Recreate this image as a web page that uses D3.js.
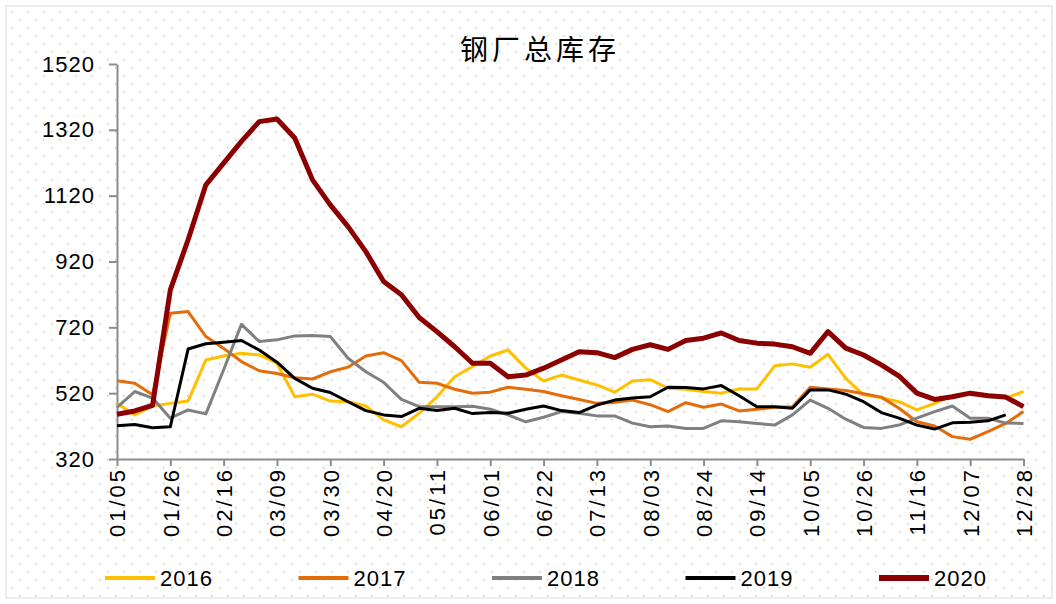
<!DOCTYPE html>
<html>
<head>
<meta charset="utf-8">
<script src="https://cdn.jsdelivr.net/npm/d3@7/dist/d3.min.js"></script>
<style>
body { margin: 0; background: #fff; }
text { font-family: "Liberation Sans", Arial, sans-serif; fill: #000; }
</style>
</head>
<body>
<script>
//tick labels (every third week)
var weekTicks = ["01/05","01/26","02/16","03/09","03/30","04/20","05/11","06/01","06/22",
                 "07/13","08/03","08/24","09/14","10/05","10/26","11/16","12/07","12/28"];
var yTicks = [320, 520, 720, 920, 1120, 1320, 1520];
var years = ["2016", "2017", "2018", "2019", "2020"];

//weekly values
var s2016 = [489,454,481,489,496,621,633,641,636,611, 509,517,496,494,481,439,418,459,509,570,
             601,633,651,596,557,575,560,545,523,557, 561,535,532,525,520,533,533,603,609,599,
             638,565,515,506,494,469,489,512,520,515, 505,525];
var s2017 = [558,550,515,763,768,692,656,616,588,580, 567,563,585,599,633,643,619,553,550,532,
             520,523,538,532,525,512,501,489,492,499, 485,464,491,477,487,466,471,477,479,538,
             533,528,518,508,474,433,420,388,380,403, 428,464];
var s2018 = [477,525,505,444,469,457,591,729,677,682, 694,695,692,626,585,553,501,479,479,479,
             480,471,454,433,447,464,459,451,451,429, 418,420,413,413,436,433,428,423,454,499,
             474,441,416,413,423,444,464,481,444,444, 429,428];
var s2019 = [421,425,415,418,654,670,675,680,651,614, 565,535,522,494,467,454,449,474,467,474,
             458,461,459,471,481,467,461,484,499,505, 509,538,537,533,543,512,479,479,474,530,
             530,517,494,461,444,423,411,430,432,436, 454];
var s2020 = [456,466,483,834,986,1153,1219,1285,1345,1353, 1295,1168,1092,1026,950,859,819,750,707,661,
             611,611,570,575,596,621,646,643,628,653, 667,653,680,687,703,680,672,669,661,641,
             707,657,636,606,572,520,501,509,520,512, 508,479];

var series = [s2016, s2017, s2018, s2019, s2020];
var colors = ["#FFC000", "#E46C0A", "#808080", "#000000", "#8B0000"];
var widths = [3, 3, 3, 3, 5];

//create svg
var svg = d3.select("body").append("svg")
    .attr("width", 1056)
    .attr("height", 604);

//dotted background like the excel fill
var defs = svg.append("defs");
var pat = defs.append("pattern")
    .attr("id", "dots")
    .attr("width", 16)
    .attr("height", 16)
    .attr("patternUnits", "userSpaceOnUse");
pat.append("rect").attr("x", 3).attr("y", 3).attr("width", 1.5).attr("height", 1.5).attr("fill", "#c8c8c8");
pat.append("rect").attr("x", 11).attr("y", 11).attr("width", 1.5).attr("height", 1.5).attr("fill", "#c8c8c8");

svg.append("rect")
    .attr("x", 6).attr("y", 6)
    .attr("width", 1046).attr("height", 592)
    .attr("fill", "url(#dots)")
    .attr("stroke", "#d9d9d9");

//set dimensions
var margin = {left: 117, right: 32.5, top: 64, bottom: 145};
var width = 1056 - margin.left - margin.right;
var height = 604 - margin.top - margin.bottom;

var x = d3.scaleLinear()
    .domain([0, s2016.length - 1])
    .range([0, width]);

var y = d3.scaleLinear()
    .domain([320, 1520])
    .range([height, 0]);

var g = svg.append("g")
    .attr("transform", "translate(" + margin.left + "," + margin.top + ")");

// x-axis
var xAxis = g.append("g")
    .attr("transform", "translate(0," + height + ")")
    .call(d3.axisBottom(x)
        .tickValues(weekTicks.map(function(d, i) { return i * 3; }))
        .tickFormat(function(d) { return weekTicks[d / 3]; })
        .tickSize(7)
        .tickSizeOuter(0));
xAxis.select(".domain").attr("stroke", "#8c8c8c").attr("stroke-width", 2);
xAxis.selectAll(".tick line").attr("stroke", "#8c8c8c").attr("stroke-width", 2);
xAxis.selectAll(".tick text")
    .attr("transform", "rotate(-90)")
    .attr("x", -8)
    .attr("y", 0)
    .attr("dy", "0.36em")
    .style("text-anchor", "end")
    .style("font-size", "22px")
    .style("letter-spacing", "3px")
    .style("font-family", "'Liberation Sans', Arial, sans-serif");

// y-axis
var yAxis = g.append("g")
    .call(d3.axisLeft(y)
        .tickValues(yTicks)
        .tickFormat(d3.format("d"))
        .tickSize(8)
        .tickSizeOuter(0)
        .tickPadding(14));
yAxis.select(".domain").attr("stroke", "#8c8c8c").attr("stroke-width", 2);
yAxis.selectAll(".tick line").attr("stroke", "#8c8c8c").attr("stroke-width", 2);
yAxis.selectAll(".tick text")
    .style("font-size", "22px")
    .style("letter-spacing", "1px")
    .style("font-family", "'Liberation Sans', Arial, sans-serif");

// lines
var line = d3.line()
    .x(function(d, i) { return x(i); })
    .y(function(d) { return y(d); });

for (var k = 0; k < series.length; k++) {
    g.append("path")
        .datum(series[k])
        .attr("fill", "none")
        .attr("stroke", colors[k])
        .attr("stroke-width", widths[k])
        .attr("stroke-linejoin", "round")
        .attr("d", line);
}

//title
svg.append("text")
    .attr("x", 540)
    .attr("y", 60)
    .style("text-anchor", "middle")
    .style("font-size", "28px")
    .style("letter-spacing", "4px")
    .style("font-family", "'Noto Sans CJK SC', sans-serif")
    .text("钢厂总库存");

//legend
var legend = svg.append("g");
years.forEach(function(yr, i) {
    var lx = 105 + i * 193.5;
    legend.append("line")
        .attr("x1", lx).attr("x2", lx + 50)
        .attr("y1", 578).attr("y2", 578)
        .attr("stroke", colors[i])
        .attr("stroke-width", widths[i] + 1);
    legend.append("text")
        .attr("x", lx + 55)
        .attr("y", 586)
        .style("font-size", "22px")
        .style("letter-spacing", "1px")
        .text(yr);
});
</script>
</body>
</html>
